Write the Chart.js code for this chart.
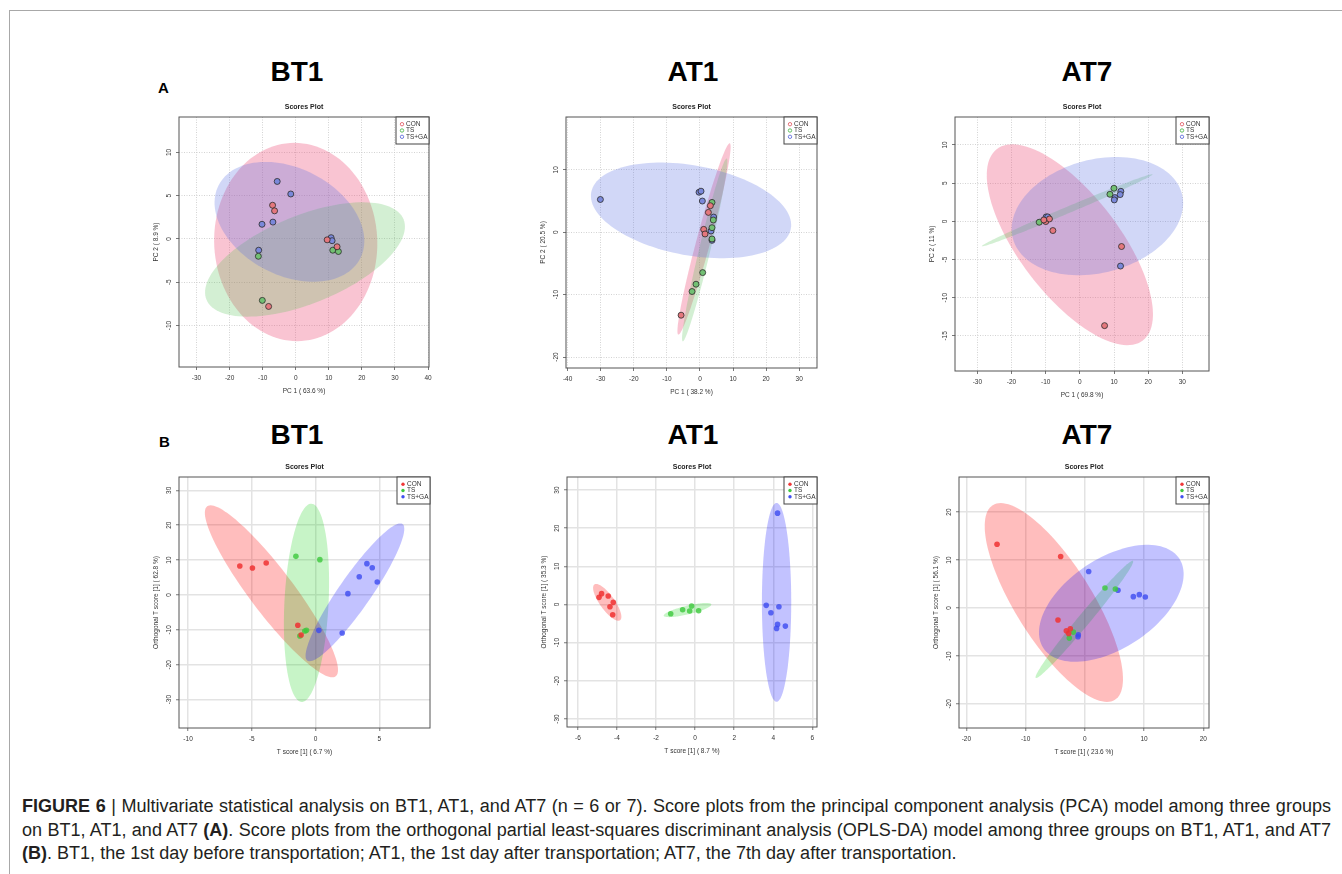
<!DOCTYPE html>
<html>
<head>
<meta charset="utf-8">
<script src="https://cdn.jsdelivr.net/npm/chart.js@4.4.0/dist/chart.umd.min.js"></script>
<style>
body{margin:0;background:#fff;width:1342px;height:874px;position:relative;overflow:hidden;font-family:"Liberation Sans",Arial,sans-serif;}
.frame{position:absolute;left:9px;top:10px;width:1340px;height:870px;border-top:1px solid #a8a8a8;border-left:1px solid #a8a8a8;}
.big{position:absolute;width:200px;text-align:center;font-weight:bold;font-size:28px;line-height:28px;color:#000;}
.lab{position:absolute;font-weight:bold;font-size:15px;line-height:15px;color:#000;}
canvas{position:absolute;}
.cap{position:absolute;left:22px;font-size:16px;line-height:18px;color:#231f20;white-space:nowrap;}
</style>
</head>
<body>
<div class="frame"></div>

<div class="lab" style="left:158px;top:80px">A</div>
<div class="lab" style="left:159px;top:434px">B</div>
<div class="big" style="left:197px;top:58px">BT1</div>
<div class="big" style="left:593px;top:58px">AT1</div>
<div class="big" style="left:987px;top:58px">AT7</div>
<div class="big" style="left:197px;top:421px">BT1</div>
<div class="big" style="left:593px;top:421px">AT1</div>
<div class="big" style="left:987px;top:421px">AT7</div>

<canvas id="c1"></canvas>
<canvas id="c2"></canvas>
<canvas id="c3"></canvas>
<canvas id="c4"></canvas>
<canvas id="c5"></canvas>
<canvas id="c6"></canvas>

<div class="cap" id="cap1" style="top:797px"><b>FIGURE 6</b> | Multivariate statistical analysis on BT1, AT1, and AT7 (n = 6 or 7). Score plots from the principal component analysis (PCA) model among three groups</div>
<div class="cap" id="cap2" style="top:821px">on BT1, AT1, and AT7 <b>(A)</b>. Score plots from the orthogonal partial least-squares discriminant analysis (OPLS-DA) model among three groups on BT1, AT1, and AT7</div>
<div class="cap" id="cap3" style="top:844px"><b>(B)</b>. BT1, the 1st day before transportation; AT1, the 1st day after transportation; AT7, the 7th day after transportation.</div>

<script>
const FONT = '"Liberation Sans", Arial, sans-serif';
const groups = ['CON', 'TS', 'TS+GA'];

// ---- PCA scores, BT1
const bt1PcaCon = [[-7.0, 3.9], [-6.4, 3.25], [9.5, -0.1], [12.5, -0.9], [-8.2, -7.8]];
const bt1PcaTs = [[11.2, -1.3], [12.9, -1.45], [-11.3, -2.0], [-10.1, -7.1]];
const bt1PcaTsga = [[-5.6, 6.65], [-1.5, 5.2], [-6.9, 1.95], [-10.2, 1.7], [10.7, 0.15], [11.0, -0.2], [-11.2, -1.3]];
// ellipses: centre x, centre y, first semi-axis (dx, dy), second semi-axis (dx, dy)
const bt1PcaEll = [[0, -0.35, -0.4, 11.46, 24.67, 0], [2.8, -2.37, 29.8, 4.64, 5.0, -4.71], [-1.9, 1.98, 21.4, -4.24, 7.41, 5.48]];
const bt1PcaXTicks = [-30, -20, -10, 0, 10, 20, 30, 40];
const bt1PcaYTicks = [-10, -5, 0, 5, 10];

// ---- PCA scores, AT1
const at1PcaCon = [[3.15, 4.25], [2.55, 3.18], [1.14, 0.46], [1.54, -0.28], [-5.7, -13.3]];
const at1PcaTs = [[3.65, 4.78], [4.05, 1.96], [3.65, 0.73], [3.65, -1.08], [0.83, -6.47], [-1.18, -8.33], [-2.38, -9.5]];
const at1PcaTsga = [[-30.1, 5.25], [-0.27, 6.41], [0.33, 6.58], [0.73, 5.0], [4.15, 2.43], [3.35, 0.2], [3.65, -1.3]];
const at1PcaEll = [[1.24, -1.08, 7.78, 15.33, 2.04, -0.29], [1.44, -2.84, 6.64, 14.65, 1.66, -0.21], [-2.69, 3.5, 30.18, -2.92, -2.45, -7.09]];
const at1PcaXTicks = [-40, -30, -20, -10, 0, 10, 20, 30];
const at1PcaYTicks = [-20, -10, 0, 10];

// ---- PCA scores, AT7
const at7PcaCon = [[-9.97, -0.03], [-8.9, 0.31], [-10.55, 0.18], [-7.9, -1.21], [12.2, -3.3], [7.23, -13.66]];
const at7PcaTs = [[9.97, 4.33], [8.8, 3.54], [-11.9, -0.12]];
const at7PcaTsga = [[12.0, 3.93], [11.8, 3.5], [10.26, 3.11], [10.07, 2.8], [-9.87, 0.58], [-9.4, 0.58], [11.9, -5.86]];
const at7PcaEll = [[-2.93, -3.07, 21.34, -12.54, 11.67, 3.96], [-3.71, 1.45, 25.0, 4.71, 0.38, -0.4], [5.13, 0.68, 24.73, 2.96, 4.3, -7.16]];
const at7PcaXTicks = [-30, -20, -10, 0, 10, 20, 30];
const at7PcaYTicks = [-15, -10, -5, 0, 5, 10];

// ---- OPLS-DA scores, BT1
const bt1OplsCon = [[-5.94, 8.31], [-4.95, 7.74], [-3.87, 9.17], [-1.39, -8.69], [-1.13, -11.46]];
const bt1OplsTs = [[-1.54, 11.08], [0.34, 10.13], [-0.71, -10.13], [-0.84, -10.3], [-1.23, -11.75]];
const bt1OplsTsga = [[4.03, 8.98], [4.45, 7.83], [3.43, 5.25], [4.84, 3.73], [2.54, 0.38], [0.26, -10.13], [2.09, -10.89]];
const bt1OplsEll = [[-3.46, 1.05, 5.04, -24.36, 1.37, 3.78], [-0.71, -2.25, -0.39, -28.42, 1.73, -0.32], [3.09, 0.76, 3.73, 19.59, 1.04, -2.64]];
const bt1OplsXTicks = [-10, -5, 0, 5];
const bt1OplsYTicks = [-30, -20, -10, 0, 10, 20, 30];

// ---- OPLS-DA scores, AT1
const at1OplsCon = [[-4.79, 2.85], [-4.92, 1.88], [-4.45, 2.23], [-4.19, 0.57], [-4.36, -0.57], [-4.22, -2.67]];
const at1OplsTs = [[-1.25, -2.41], [-0.64, -1.36], [-0.28, -1.71], [-0.18, -0.39], [0.18, -1.62]];
const at1OplsTsga = [[4.22, 23.95], [3.64, -0.22], [4.29, -0.57], [3.88, -2.15], [4.22, -5.21], [4.17, -6.26], [4.62, -5.65]];
const at1OplsEll = [[-4.5, 0.57, 0.657, -4.69, 0.305, 1.12], [-0.39, -1.45, 1.22, 1.49, 0.051, -1.108], [4.17, 0.57, 0, 26.06, 0.751, 0]];
const at1OplsXTicks = [-6, -4, -2, 0, 2, 4, 6];
const at1OplsYTicks = [-30, -20, -10, 0, 10, 20, 30];

// ---- OPLS-DA scores, AT7
const at7OplsCon = [[-14.82, 13.31], [-4.08, 10.73], [-4.53, -2.51], [-3.12, -4.74], [-2.45, -4.32], [-2.73, -5.3]];
const at7OplsTs = [[3.4, 4.18], [5.15, 3.97], [-1.94, -5.02], [-2.62, -6.27]];
const at7OplsTsga = [[0.65, 7.6], [5.6, 3.69], [8.19, 2.37], [9.2, 2.79], [10.21, 2.3], [-1.1, -5.57], [-1.15, -5.99]];
const at7OplsEll = [[-5.23, 1.15, 10.31, -20.29, 5.47, 4.27], [-0.08, -2.37, 8.21, 12.2, 0.78, -0.8], [4.47, 0.98, 11.48, 9.32, 4.16, -7.87]];
const at7OplsXTicks = [-20, -10, 0, 10, 20];
const at7OplsYTicks = [-20, -10, 0, 10, 20];

const styles = {
  pca: {
    pt: ['#e4777d', '#72c073', '#7a88da'], border: '#2b2b2b', r: 3.0, bw: 0.8,
    ell: ['rgba(236,72,115,0.32)', 'rgba(80,190,80,0.25)', 'rgba(90,110,225,0.28)'],
    grid: '#c8c8c8', dash: [1, 1.5], gw: 0.8, open: true
  },
  opls: {
    pt: ['rgba(240,50,50,0.85)', 'rgba(60,200,60,0.8)', 'rgba(60,75,240,0.8)'], border: 'rgba(0,0,0,0)', r: 2.8, bw: 0,
    ell: ['rgba(255,0,0,0.26)', 'rgba(0,205,0,0.22)', 'rgba(0,0,255,0.24)'],
    grid: '#e3e3e3', dash: [], gw: 1.5, open: false
  }
};

const panels = [
  {id: 'c1', kind: 'pca', box: [179, 117, 250, 250], x: [-35.3, 40.3], y: [-14.8, 14.1], xt: bt1PcaXTicks, yt: bt1PcaYTicks,
   xl: 'PC 1 ( 63.6 %)', yl: 'PC 2 ( 8.9 %)', pts: [bt1PcaCon, bt1PcaTs, bt1PcaTsga], ell: bt1PcaEll},
  {id: 'c2', kind: 'pca', box: [566, 117, 251, 251], x: [-40.5, 35.4], y: [-21.76, 18.47], xt: at1PcaXTicks, yt: at1PcaYTicks,
   xl: 'PC 1 ( 38.2 %)', yl: 'PC 2 ( 20.5 %)', pts: [at1PcaCon, at1PcaTs, at1PcaTsga], ell: at1PcaEll},
  {id: 'c3', kind: 'pca', box: [955, 117, 254, 254], x: [-36.55, 37.8], y: [-19.6, 13.66], xt: at7PcaXTicks, yt: at7PcaYTicks,
   xl: 'PC 1 ( 69.8 %)', yl: 'PC 2 ( 11 %)', pts: [at7PcaCon, at7PcaTs, at7PcaTsga], ell: at7PcaEll},
  {id: 'c4', kind: 'opls', box: [179, 477, 251, 251], x: [-10.71, 8.98], y: [-38.12, 33.82], xt: bt1OplsXTicks, yt: bt1OplsYTicks,
   xl: 'T score [1] ( 6.7 %)', yl: 'Orthogonal T score [1] ( 62.8 %)', pts: [bt1OplsCon, bt1OplsTs, bt1OplsTsga], ell: bt1OplsEll},
  {id: 'c5', kind: 'opls', box: [567, 477, 250, 250], x: [-6.56, 6.24], y: [-32.1, 33.42], xt: at1OplsXTicks, yt: at1OplsYTicks,
   xl: 'T score [1] ( 8.7 %)', yl: 'Orthogonal T score [1] ( 35.3 %)', pts: [at1OplsCon, at1OplsTs, at1OplsTsga], ell: at1OplsEll},
  {id: 'c6', kind: 'opls', box: [959, 477, 250, 251], x: [-21.24, 20.96], y: [-25.02, 27.32], xt: at7OplsXTicks, yt: at7OplsYTicks,
   xl: 'T score [1] ( 23.6 %)', yl: 'Orthogonal T score [1] ( 56.1 %)', pts: [at7OplsCon, at7OplsTs, at7OplsTsga], ell: at7OplsEll}
];

// ellipses under the points, then frame, title and legend on top
const deco = {
  id: 'deco',
  beforeDatasetsDraw(chart, args, o) {
    const {ctx, chartArea: a, scales: {x, y}} = chart;
    ctx.save();
    ctx.beginPath();
    ctx.rect(a.left, a.top, a.width, a.height);
    ctx.clip();
    o.ell.forEach((e, i) => {
      ctx.beginPath();
      for (let k = 0; k <= 120; k++) {
        const t = k / 120 * Math.PI * 2;
        const px = x.getPixelForValue(e[0] + e[2] * Math.cos(t) + e[4] * Math.sin(t));
        const py = y.getPixelForValue(e[1] + e[3] * Math.cos(t) + e[5] * Math.sin(t));
        if (k) ctx.lineTo(px, py); else ctx.moveTo(px, py);
      }
      ctx.closePath();
      ctx.fillStyle = o.colors[i];
      ctx.fill();
    });
    ctx.restore();
  },
  afterDraw(chart, args, o) {
    const {ctx, chartArea: a} = chart;
    ctx.save();
    ctx.strokeStyle = '#555';
    ctx.lineWidth = 1;
    ctx.strokeRect(a.left, a.top, a.width, a.height);

    ctx.fillStyle = '#222';
    ctx.font = 'bold 7px ' + FONT;
    ctx.textAlign = 'center';
    ctx.textBaseline = 'middle';
    ctx.fillText('Scores Plot', (a.left + a.right) / 2, a.top - 10);

    // legend box in the top right corner
    const lw = 33, lh = 27;
    ctx.fillStyle = '#fff';
    ctx.fillRect(a.right - lw, a.top, lw, lh);
    ctx.strokeStyle = '#444';
    ctx.strokeRect(a.right - lw, a.top, lw, lh);
    ctx.font = '6.5px ' + FONT;
    ctx.textAlign = 'left';
    groups.forEach((g, i) => {
      const yy = a.top + 7.2 + i * 6.3;
      ctx.beginPath();
      ctx.arc(a.right - 27, yy, 1.7, 0, Math.PI * 2);
      if (o.open) {
        ctx.strokeStyle = o.legendCol[i];
        ctx.lineWidth = 0.8;
        ctx.stroke();
      } else {
        ctx.fillStyle = o.legendCol[i];
        ctx.fill();
      }
      ctx.fillStyle = '#333';
      ctx.fillText(g, a.right - 23, yy);
    });
    ctx.restore();
  }
};

const axisFont = {size: 6.5, family: FONT};

panels.forEach(p => {
  const st = styles[p.kind];
  const [l, t, w, h] = p.box;
  const cv = document.getElementById(p.id);
  cv.width = w + 62;
  cv.height = h + 70;
  cv.style.left = (l - 50) + 'px';
  cv.style.top = (t - 30) + 'px';

  const legendCol = p.kind === 'pca' ? ['#e0505a', '#40b040', '#5060d8'] : ['#f03838', '#40c840', '#4050f0'];

  const gridOpts = {color: st.grid, lineWidth: st.gw, tickColor: '#555', tickLength: 3, tickWidth: 0.8, tickBorderDash: []};

  new Chart(cv, {
    type: 'scatter',
    data: {
      datasets: groups.map((g, i) => ({
        label: g,
        data: p.pts[i].map(q => ({x: q[0], y: q[1]})),
        backgroundColor: st.pt[i],
        borderColor: st.border,
        borderWidth: st.bw,
        pointRadius: st.r,
        pointHoverRadius: st.r
      }))
    },
    options: {
      responsive: false,
      animation: false,
      devicePixelRatio: 1,
      layout: {padding: {left: 0, right: 12, top: 30, bottom: 0}},
      plugins: {
        legend: {display: false},
        tooltip: {enabled: false},
        deco: {ell: p.ell, colors: st.ell, open: st.open, legendCol: legendCol}
      },
      scales: {
        x: {
          type: 'linear', min: p.x[0], max: p.x[1],
          afterBuildTicks: s => { s.ticks = p.xt.map(v => ({value: v})); },
          afterFit: s => { s.height = 40; },
          grid: gridOpts,
          border: {display: false, dash: st.dash},
          ticks: {font: axisFont, color: '#333', padding: 4, maxRotation: 0, autoSkip: false},
          title: {display: true, text: p.xl, font: axisFont, color: '#333', padding: {top: 0, bottom: 12.1}}
        },
        y: {
          type: 'linear', min: p.y[0], max: p.y[1],
          afterBuildTicks: s => { s.ticks = p.yt.map(v => ({value: v})); },
          afterFit: s => { s.width = 50; },
          grid: gridOpts,
          border: {display: false, dash: st.dash},
          ticks: {font: axisFont, color: '#333', padding: 1.6, minRotation: 90, maxRotation: 90, crossAlign: 'center', autoSkip: false},
          title: {display: true, text: p.yl, font: axisFont, color: '#333', padding: {top: 23.1, bottom: 0}}
        }
      }
    },
    plugins: [deco]
  });
});

// caption: size the last line to its width, justify the first two
const caps = [document.getElementById('cap1'), document.getElementById('cap2'), document.getElementById('cap3')];
const fs = 16 * 935 / caps[2].getBoundingClientRect().width;
caps.forEach(c => { c.style.fontSize = fs + 'px'; });
[0, 1].forEach(i => {
  const c = caps[i];
  const spaces = (c.textContent.match(/ /g) || []).length;
  const wNow = c.getBoundingClientRect().width;
  c.style.wordSpacing = ((1309 - wNow) / spaces) + 'px';
});
</script>
</body>
</html>
